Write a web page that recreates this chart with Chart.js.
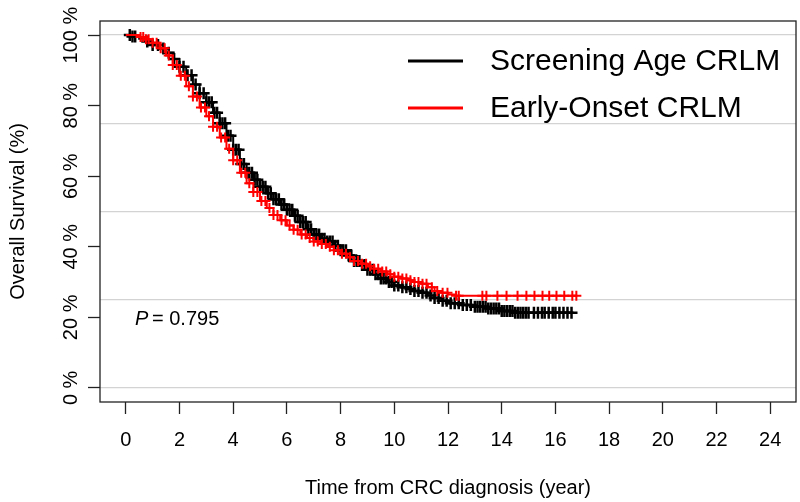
<!DOCTYPE html>
<html>
<head>
<meta charset="utf-8">
<script src="https://cdn.jsdelivr.net/npm/chart.js@4.4.0/dist/chart.umd.min.js"></script>
<style>
  html, body { margin: 0; padding: 0; background: #fff; overflow: hidden; }
  #wrap { width: 800px; height: 502px; position: relative; }
  canvas { display: block; }
</style>
</head>
<body>
<div id="wrap"><canvas id="kmChart"></canvas></div>
<script>
// Kaplan-Meier estimates (time in years, survival in %)
const screenTime = [0, 0.25, 0.5, 0.75, 1, 1.25, 1.5, 1.75, 2, 2.25, 2.5, 2.75, 3, 3.25, 3.5, 3.75, 4, 4.25, 4.5, 4.75,
  5, 5.25, 5.5, 5.75, 6, 6.25, 6.5, 6.75, 7, 7.25, 7.5, 7.75, 8, 8.25, 8.5, 8.75, 9, 9.25, 9.5, 9.75,
  10, 10.25, 10.5, 10.75, 11, 11.25, 11.5, 11.75, 12, 12.5, 13, 13.5, 14, 14.5, 16.6];
const screenSurv = [100, 99.6, 99, 98.2, 97.2, 96.2, 95, 93.2, 91, 88.6, 86, 83.5, 81, 78, 75, 71.5, 67.5, 63.5, 61, 59,
  57, 55.2, 53.5, 52, 50.5, 48.8, 47, 45, 43.5, 42.3, 41.5, 40.3, 39, 37.5, 36, 34.8, 33.5, 32.2, 31, 30,
  29, 28.5, 28, 27.5, 27, 26.2, 25.5, 24.7, 24, 23.5, 23, 22.5, 21.8, 21.3, 21.3];
const screenCensor = [0.15, 0.25, 0.35, 0.8, 1.0, 1.2, 1.4, 1.6, 1.8, 2.0, 2.15, 2.3, 2.45, 2.6, 2.75, 2.9, 3.0, 3.1, 3.2, 3.3,
  3.4, 3.5, 3.6, 3.7, 3.8, 3.9, 4.0, 4.1, 4.2, 4.3, 4.4, 4.5, 4.6, 4.7, 4.8, 4.9, 5.0, 5.1, 5.2, 5.3,
  5.4, 5.5, 5.6, 5.7, 5.8, 5.9, 6.0, 6.1, 6.2, 6.3, 6.4, 6.5, 6.6, 6.7, 6.8, 6.9, 7.0, 7.1, 7.2, 7.3,
  7.4, 7.5, 7.6, 7.7, 7.8, 7.9, 8.0, 8.1, 8.2, 8.3, 8.4, 8.5, 8.6, 8.7, 8.8, 8.9, 9.0, 9.1, 9.2, 9.3,
  9.4, 9.5, 9.6, 9.7, 9.8, 9.9, 10.0, 10.15, 10.3, 10.45, 10.6, 10.75, 10.9, 11.05, 11.2, 11.35, 11.5, 11.65, 11.8, 11.95,
  12.1, 12.25, 12.4, 12.55, 12.7, 12.85, 13.0, 13.1, 13.2, 13.3, 13.4, 13.5, 13.6, 13.7, 13.8, 13.9, 14.0, 14.1, 14.2, 14.3,
  14.4, 14.5, 14.6, 14.7, 14.8, 14.9, 15.0, 15.2, 15.35, 15.5, 15.6, 15.75, 15.9, 16.0, 16.15, 16.3, 16.45, 16.6];

const earlyTime = [0, 0.25, 0.5, 0.75, 1, 1.25, 1.5, 1.75, 2, 2.25, 2.5, 2.75, 3, 3.25, 3.5, 3.75, 4, 4.25, 4.5, 4.75,
  5, 5.25, 5.5, 5.75, 6, 6.25, 6.5, 6.75, 7, 7.25, 7.5, 7.75, 8, 8.25, 8.5, 8.75, 9, 9.25, 9.5, 9.75,
  10, 10.25, 10.5, 10.75, 11, 11.25, 11.5, 11.75, 12, 12.3, 16.8];
const earlySurv = [100, 100, 99.5, 98.8, 97.8, 96.3, 94.2, 91.5, 88.5, 85.5, 82.6, 79.5, 77, 74, 71, 67.8, 64.5, 61, 58, 55.5,
  53, 51, 49, 47.5, 46, 44.8, 43.5, 42.5, 41.5, 40.8, 40, 39, 38, 37, 36, 35.2, 34.5, 33.8, 33, 32.2,
  31.5, 31, 30.5, 30, 29.5, 28.5, 27.5, 27, 26.5, 26.1, 26.1];
const earlyCensor = [0.55, 0.65, 0.75, 0.85, 1.0, 1.15, 1.3, 1.45, 1.6, 1.75, 1.9, 2.05, 2.2, 2.35, 2.5, 2.65, 2.8, 2.95, 3.1, 3.25,
  3.4, 3.55, 3.7, 3.85, 4.0, 4.15, 4.3, 4.45, 4.6, 4.75, 4.9, 5.05, 5.2, 5.35, 5.5, 5.65, 5.8, 5.95, 6.1, 6.25,
  6.4, 6.55, 6.7, 6.85, 7.0, 7.15, 7.3, 7.45, 7.6, 7.75, 7.9, 8.05, 8.2, 8.35, 8.5, 8.65, 8.8, 8.95, 9.1, 9.25,
  9.4, 9.55, 9.7, 9.85, 10.0, 10.15, 10.3, 10.45, 10.6, 10.75, 10.9, 11.05, 11.2, 11.4, 11.6, 11.8, 11.98, 12.3, 12.4, 13.28,
  13.43, 13.84, 14.18, 14.59, 14.92, 15.22, 15.52, 15.77, 16.04, 16.33, 16.63, 16.78];

const xTicks = [0, 2, 4, 6, 8, 10, 12, 14, 16, 18, 20, 22, 24];
const yTicks = [0, 20, 40, 60, 80, 100];
const yTickLabels = ['0 %', '20 %', '40 %', '60 %', '80 %', '100 %'];
const refLines = [0, 25, 50, 75, 100];
const seriesNames = ['Screening Age CRLM', 'Early-Onset CRLM'];
const pValue = '0.795';

const FONT = 'Liberation Sans, Arial, sans-serif';

function toPoints(times, surv) {
  return times.map((t, i) => ({ x: t, y: surv[i] }));
}

// survival of the step curve at time t (value of the last step at or before t)
function survAt(times, surv, t) {
  let v = surv[0];
  for (let i = 0; i < times.length; i++) {
    if (times[i] <= t) v = surv[i];
  }
  return v;
}

function censorPoints(censor, times, surv) {
  return censor.map(t => ({ x: t, y: survAt(times, surv, t) }));
}

const boxAndText = {
  id: 'boxAndText',
  afterDraw(chart) {
    const ctx = chart.ctx;
    const area = chart.chartArea;
    const y = chart.scales.y;
    ctx.save();
    // plot frame
    ctx.strokeStyle = '#222';
    ctx.lineWidth = 1.3;
    ctx.strokeRect(area.left, area.top, area.right - area.left, area.bottom - area.top);

    // vertical y tick labels
    ctx.fillStyle = '#000';
    ctx.font = '20px ' + FONT;
    ctx.textAlign = 'center';
    ctx.textBaseline = 'middle';
    yTicks.forEach((v, i) => {
      ctx.save();
      ctx.translate(71, y.getPixelForValue(v));
      ctx.rotate(-Math.PI / 2);
      ctx.fillText(yTickLabels[i], 0, 0);
      ctx.restore();
    });

    // legend
    ctx.font = '30px ' + FONT;
    ctx.textAlign = 'left';
    const legendColors = ['#000000', '#ff0000'];
    [61, 108].forEach((ly, i) => {
      ctx.strokeStyle = legendColors[i];
      ctx.lineWidth = 3;
      ctx.beginPath();
      ctx.moveTo(408, ly);
      ctx.lineTo(463, ly);
      ctx.stroke();
      ctx.fillText(seriesNames[i], 490, ly + 1);
    });

    // p value
    ctx.font = 'italic 20px ' + FONT;
    ctx.fillText('P', 135, 319);
    ctx.font = '20px ' + FONT;
    ctx.fillText('= ' + pValue, 152, 319);
    ctx.restore();
  }
};

const ctx = document.getElementById('kmChart');
new Chart(ctx, {
  type: 'scatter',
  data: {
    datasets: [{
      label: seriesNames[1] + ' censored',
      data: censorPoints(earlyCensor, earlyTime, earlySurv),
      pointStyle: 'cross',
      pointRadius: 5,
      borderColor: '#ff0000',
      borderWidth: 2,
      order: 0
    }, {
      label: seriesNames[1],
      data: toPoints(earlyTime, earlySurv),
      showLine: true,
      stepped: true,
      borderColor: '#ff0000',
      borderWidth: 2,
      pointRadius: 0,
      order: 1
    }, {
      label: seriesNames[0] + ' censored',
      data: censorPoints(screenCensor, screenTime, screenSurv),
      pointStyle: 'cross',
      pointRadius: 6,
      borderColor: '#000000',
      borderWidth: 2.5,
      order: 2
    }, {
      label: seriesNames[0],
      data: toPoints(screenTime, screenSurv),
      showLine: true,
      stepped: true,
      borderColor: '#000000',
      borderWidth: 2,
      pointRadius: 0,
      order: 3
    }]
  },
  options: {
    responsive: true,
    maintainAspectRatio: false,
    animation: false,
    layout: { autoPadding: false, padding: { top: 21, right: 4, left: 0, bottom: 0 } },
    plugins: {
      legend: { display: false },
      tooltip: { enabled: false }
    },
    scales: {
      x: {
        type: 'linear',
        min: -0.96,
        max: 24.96,
        afterBuildTicks: axis => { axis.ticks = xTicks.map(v => ({ value: v })); },
        afterFit: axis => { axis.height = 100; axis.paddingLeft = 0; axis.paddingRight = 0; },
        border: { display: false },
        grid: { drawOnChartArea: false, drawTicks: true, tickLength: 12, tickColor: '#222', tickWidth: 1.3 },
        ticks: { color: '#000', font: { family: FONT, size: 20 }, padding: 14, maxRotation: 0 },
        title: { display: true, text: 'Time from CRC diagnosis (year)', color: '#000', font: { family: FONT, size: 20 }, padding: { top: 0, bottom: 2 } }
      },
      y: {
        type: 'linear',
        position: 'left',
        min: -4,
        max: 104,
        afterBuildTicks: axis => { axis.ticks = yTicks.map(v => ({ value: v })); },
        afterFit: axis => { axis.width = 100; axis.paddingTop = 0; axis.paddingBottom = 0; },
        border: { display: false },
        grid: { drawOnChartArea: false, drawTicks: true, tickLength: 12, tickColor: '#222', tickWidth: 1.3 },
        ticks: { display: false },
        title: { display: true, text: 'Overall Survival (%)', color: '#000', font: { family: FONT, size: 20 }, padding: { top: 6, bottom: 0 } }
      },
      yRef: {
        type: 'linear',
        position: 'left',
        min: -4,
        max: 104,
        afterBuildTicks: axis => { axis.ticks = refLines.map(v => ({ value: v })); },
        afterFit: axis => { axis.width = 0; axis.paddingTop = 0; axis.paddingBottom = 0; },
        border: { display: false },
        grid: { color: '#d3d3d3', lineWidth: 1.3, drawTicks: false },
        ticks: { display: false }
      }
    }
  },
  plugins: [boxAndText]
});
</script>
</body>
</html>
